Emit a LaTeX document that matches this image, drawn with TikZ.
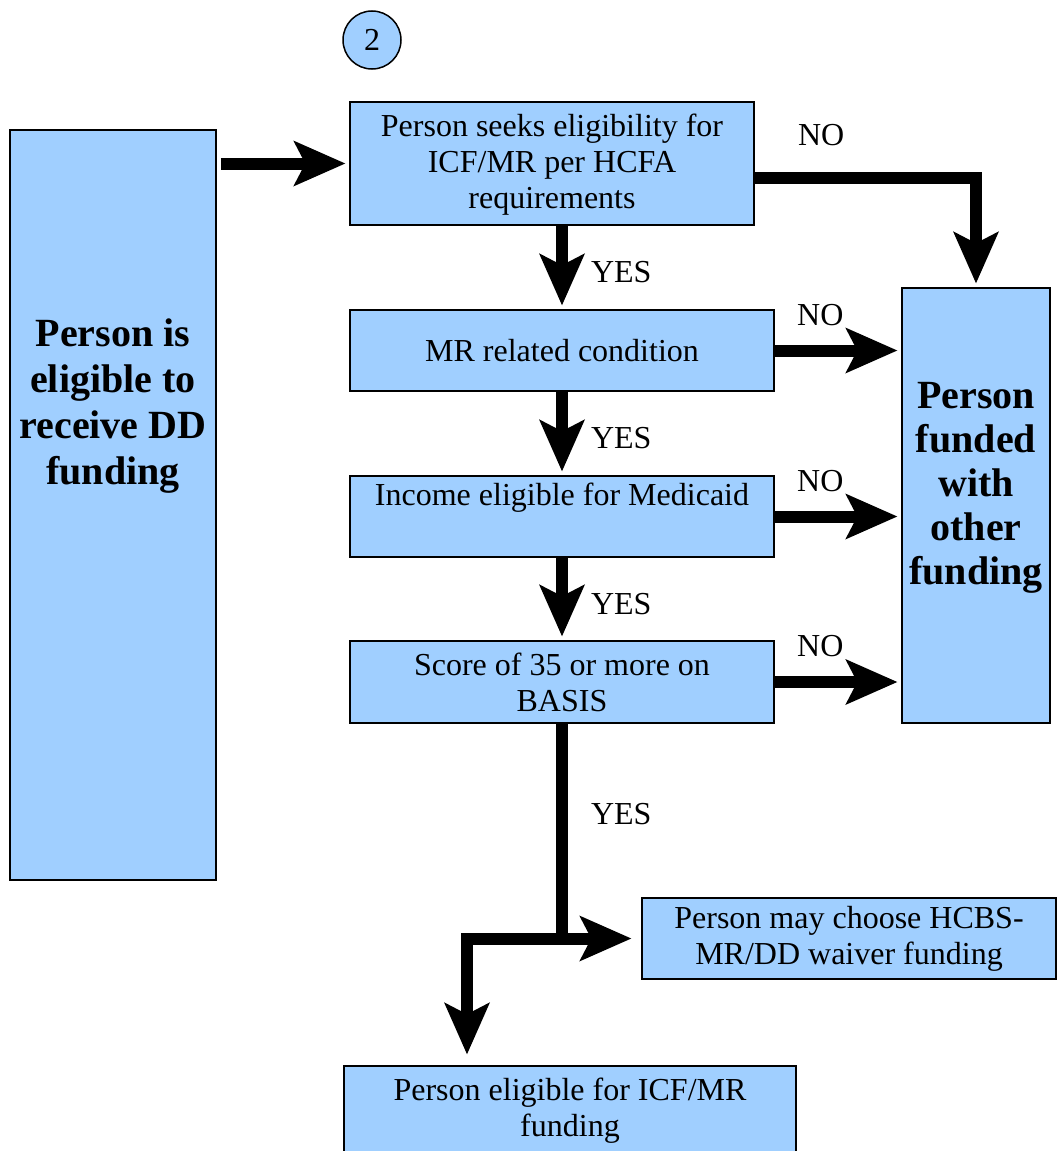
\documentclass[tikz,border=0pt]{standalone}
\usepackage{fontspec}
\setmainfont{Liberation Serif}
\usepackage{tikz}
\usetikzlibrary{arrows.meta}
\usepackage{xcolor}
\definecolor{boxblue}{RGB}{160,207,255}
\tikzstyle{stepbox} = [draw=black, fill=boxblue, line width=1.5pt,
    rectangle, inner sep=3pt, align=center, font=\fontsize{32}{36}\selectfont]
\tikzstyle{bigbox} = [stepbox, font=\bfseries\fontsize{40}{46}\selectfont]
\tikzstyle{flow} = [line width=12pt, shorten >=4pt,
    -{Stealth[length=52pt, width=46pt, inset=12pt, line width=0pt]}]
\tikzstyle{answer} = [font=\fontsize{32}{36}\selectfont, inner sep=0pt]

\begin{document}
\begin{tikzpicture}[x=1pt, y=-1pt]
\useasboundingbox (0,0) rectangle (1058,1151);
\node [draw, circle, fill=boxblue, line width=1.5pt, minimum size=58pt, inner sep=0pt,
    font=\fontsize{32}{36}\selectfont] (stepno) at (372,40) {2};
\node [bigbox, minimum width=206pt, minimum height=750pt, text depth=206pt] (elig) at (113,505)
    {Person is\\eligible to\\receive DD\\funding};
\node [stepbox, minimum width=404pt, minimum height=123pt, text depth=4pt] (seek) at (552,163.5)
    {Person seeks eligibility for\\ICF/MR per HCFA\\requirements};
\node [stepbox, minimum width=424pt, minimum height=81pt] (cond) at (562,350.5)
    {MR related condition};
\node [stepbox, minimum width=424pt, minimum height=81pt, text depth=44pt] (income) at (562,516.5)
    {Income eligible for Medicaid};
\node [stepbox, minimum width=424pt, minimum height=82pt] (score) at (562,682)
    {Score of 35 or more on\\BASIS};
\node [bigbox, font=\bfseries\fontsize{40}{44}\selectfont, minimum width=148pt,
    minimum height=435pt, text depth=45pt] (other) at (976,505.5)
    {Person\\funded\\with\\other\\funding};
\node [stepbox, minimum width=414pt, minimum height=81pt] (waiver) at (849,938.5)
    {Person may choose HCBS-\\MR/DD waiver funding};
\node [stepbox, minimum width=452pt, minimum height=90pt] (icf) at (570,1111)
    {Person eligible for ICF/MR\\funding};

\draw [flow, shorten <=4pt] (elig.east |- seek.west) -- (seek.west);
\draw [flow] (seek.south -| cond.north) -- node[answer, right=23pt, yshift=-5pt] {YES} (cond.north);
\draw [flow] (cond.south) -- node[answer, right=23pt, yshift=-5pt] {YES} (income.north);
\draw [flow] (income.south) -- node[answer, right=23pt, yshift=-5pt] {YES} (score.north);
\draw [flow] ([yshift=-14.5pt]seek.east) -| node[answer, pos=0.15, above=26pt] {NO} (other.north);
\draw [flow] (cond.east) -- node[answer, pos=0.36, above=19pt] {NO} (other.west |- cond.east);
\draw [flow] (income.east) -- node[answer, pos=0.36, above=19pt] {NO} (other.west |- income.east);
\draw [flow] (score.east) -- node[answer, pos=0.36, above=19pt] {NO} (other.west |- score.east);

\coordinate (split) at (score.south |- waiver.west);
\coordinate (bend) at (467,938.5);
\draw [line width=12pt] (score.south) -- node[answer, pos=0.42, right=23pt] {YES} (split);
\draw [flow, shorten >=10pt] (split) -- (waiver.west);
\draw [flow, shorten >=11pt] (split) -- (bend) -- (bend |- icf.north);
\end{tikzpicture}
\end{document}
